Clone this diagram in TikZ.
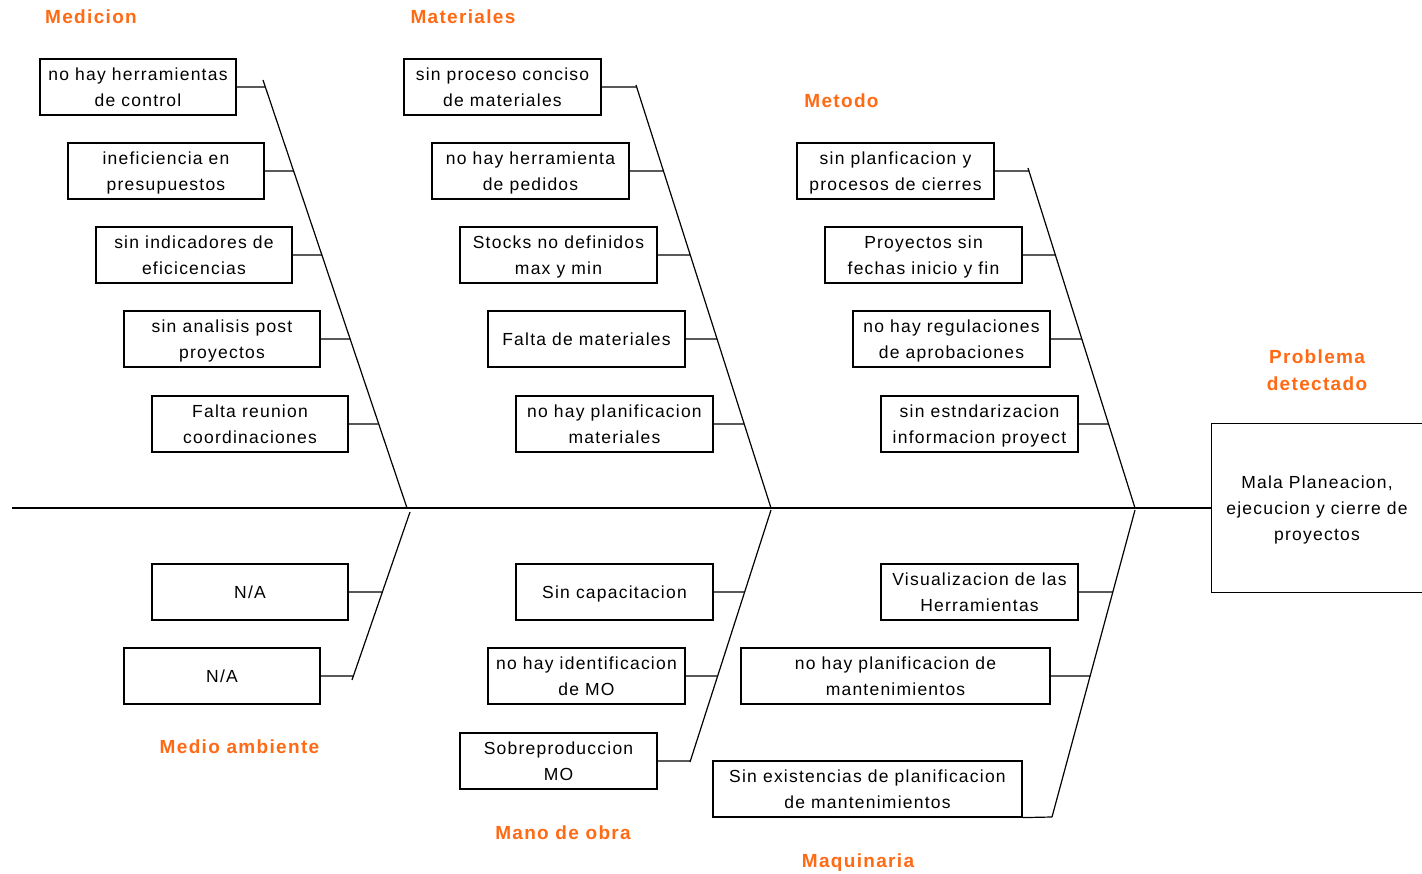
\documentclass[tikz,border=0pt]{standalone}
\usepackage{fontspec}
\setmainfont{Liberation Sans}[LetterSpace=7]
\usetikzlibrary{calc}
\definecolor{lblorange}{RGB}{255,106,20}
\newcommand\sk{\rule[-6.75pt]{0pt}{26pt}}
\newcommand\skb{\rule[-6.7pt]{0pt}{27pt}}
\begin{document}
\begin{tikzpicture}[x=1pt,y=-1pt,
  causebox/.style={draw, line width=1.2pt, minimum width=197pt, minimum height=56pt,
    inner sep=0pt, align=center, font=\fontsize{17.5}{26}\selectfont},
  widebox/.style={causebox, minimum width=309pt},
  bone/.style={line width=1.2pt},
  cat/.style={text=lblorange, font=\fontsize{19}{27}\bfseries\selectfont,
    inner sep=0pt, text height=13.6pt, text depth=0pt},
  catm/.style={text=lblorange, font=\fontsize{19}{27}\bfseries\selectfont,
    inner sep=0pt, align=center}]
\clip (0,0) rectangle (1422,874);
\fill[white] (0,0) rectangle (1422,874);

% problem box (its right side lies beyond the picture) and spine
\node[minimum width=210pt, minimum height=168pt, inner sep=0pt,
  align=center, font=\fontsize{17.5}{26}\selectfont] (p) at (1317,508)
  {\sk Mala Planeacion,\\\sk ejecucion y cierre de\\\sk proyectos};
\draw[bone] ($(p.north east)+(10,0)$) -- (p.north west) -- (p.south west) -- ($(p.south east)+(10,0)$);
\coordinate (sp) at (12,508);
\draw[bone] (sp) -- (p.west);

% bones
\coordinate (mT) at (263,80);   \coordinate (mB) at (407,508);
\coordinate (aT) at (636,85);   \coordinate (aB) at (771,508);
\coordinate (tT) at (1028,168); \coordinate (tB) at (1135,508);
\coordinate (eT) at (410,512);  \coordinate (eB) at (352,680);
\coordinate (oT) at (771,510);  \coordinate (oB) at (690,762);
\coordinate (qT) at (1135,510); \coordinate (qB) at (1052,817);
\draw[bone] (mT) -- (mB);
\draw[bone] (aT) -- (aB);
\draw[bone] (tT) -- (tB);
\draw[bone] (eT) -- (eB);
\draw[bone] (oT) -- (oB);
\draw[bone] (qT) -- (qB);

% Medicion
\node[causebox, minimum width=196pt] (m1) at (138,87) {\sk no hay herramientas\\\sk de control};
\node[causebox, minimum width=196pt] (m2) at (166,171) {\sk ineficiencia en\\\sk presupuestos};
\node[causebox, minimum width=196pt] (m3) at (194,255) {\sk sin indicadores de\\\sk eficicencias};
\node[causebox, minimum width=196pt] (m4) at (222,339) {\sk sin analisis post\\\sk proyectos};
\node[causebox, minimum width=196pt] (m5) at (250,424) {\sk Falta reunion\\\sk coordinaciones};
\coordinate (m1j) at ($(mT)!{7/428}!(mB)$);
\coordinate (m2j) at ($(mT)!{91/428}!(mB)$);
\coordinate (m3j) at ($(mT)!{175/428}!(mB)$);
\coordinate (m4j) at ($(mT)!{259/428}!(mB)$);
\coordinate (m5j) at ($(mT)!{344/428}!(mB)$);
\foreach \i in {1,...,5} {\draw[bone] (m\i.east) -- (m\i j);}

% Materiales
\node[causebox] (a1) at (502.5,87) {\sk sin proceso conciso\\\sk de materiales};
\node[causebox] (a2) at (530.5,171) {\sk no hay herramienta\\\sk de pedidos};
\node[causebox] (a3) at (558.5,255) {\sk Stocks no definidos\\\sk max y min};
\node[causebox] (a4) at (586.5,339) {\sk Falta de materiales};
\node[causebox] (a5) at (614.5,424) {\sk no hay planificacion\\\sk materiales};
\coordinate (a1j) at ($(aT)!{2/423}!(aB)$);
\coordinate (a2j) at ($(aT)!{86/423}!(aB)$);
\coordinate (a3j) at ($(aT)!{170/423}!(aB)$);
\coordinate (a4j) at ($(aT)!{254/423}!(aB)$);
\coordinate (a5j) at ($(aT)!{339/423}!(aB)$);
\foreach \i in {1,...,5} {\draw[bone] (a\i.east) -- (a\i j);}

% Metodo
\node[causebox] (t1) at (895.5,171) {\sk sin planficacion y\\\sk procesos de cierres};
\node[causebox] (t2) at (923.5,255) {\sk Proyectos sin\\\sk fechas inicio y fin};
\node[causebox] (t3) at (951.5,339) {\sk no hay regulaciones\\\sk de aprobaciones};
\node[causebox] (t4) at (979.5,424) {\sk sin estndarizacion\\\sk informacion proyect};
\coordinate (t1j) at ($(tT)!{3/340}!(tB)$);
\coordinate (t2j) at ($(tT)!{87/340}!(tB)$);
\coordinate (t3j) at ($(tT)!{171/340}!(tB)$);
\coordinate (t4j) at ($(tT)!{256/340}!(tB)$);
\foreach \i in {1,...,4} {\draw[bone] (t\i.east) -- (t\i j);}

% Medio ambiente
\node[causebox, minimum width=196pt] (e1) at (250,592) {\sk N/A};
\node[causebox, minimum width=196pt] (e2) at (222,676) {\sk N/A};
\coordinate (e1j) at ($(eT)!{80/168}!(eB)$);
\coordinate (e2j) at ($(eT)!{164/168}!(eB)$);
\foreach \i in {1,2} {\draw[bone] (e\i.east) -- (e\i j);}

% Mano de obra
\node[causebox] (o1) at (614.5,592) {\sk Sin capacitacion};
\node[causebox] (o2) at (586.5,676) {\sk no hay identificacion\\\sk de MO};
\node[causebox] (o3) at (558.5,761) {\sk Sobreproduccion\\\sk MO};
\coordinate (o1j) at ($(oT)!{82/252}!(oB)$);
\coordinate (o2j) at ($(oT)!{166/252}!(oB)$);
\coordinate (o3j) at ($(oT)!{251/252}!(oB)$);
\foreach \i in {1,2,3} {\draw[bone] (o\i.east) -- (o\i j);}

% Maquinaria
\node[causebox] (q1) at (979.5,592) {\sk Visualizacion de las\\\sk Herramientas};
\node[widebox] (q2) at (895.5,676) {\sk no hay planificacion de\\\sk mantenimientos};
\node[widebox] (q3) at (867.5,789) {\sk Sin existencias de planificacion\\\sk de mantenimientos};
\coordinate (q1j) at ($(qT)!{82/307}!(qB)$);
\coordinate (q2j) at ($(qT)!{166/307}!(qB)$);
\draw[bone] (q1.east) -- (q1j);
\draw[bone] (q2.east) -- (q2j);
\draw[bone] (q3.south east) -- (qB);

% category labels
\node[cat] (lMed) at (91,17) {Medicion};
\node[cat] (lMat) at (463,17) {Materiales};
\node[cat] (lMet) at (841.5,101) {Metodo};
\node[catm] (lProb) at (1317,370.5) {\skb Problema\\\skb detectado};
\node[cat] (lAmb) at (239.5,747) {Medio ambiente};
\node[cat] (lMO) at (563,833) {Mano de obra};
\node[cat] (lMaq) at (858,861) {Maquinaria};
\end{tikzpicture}
\end{document}
